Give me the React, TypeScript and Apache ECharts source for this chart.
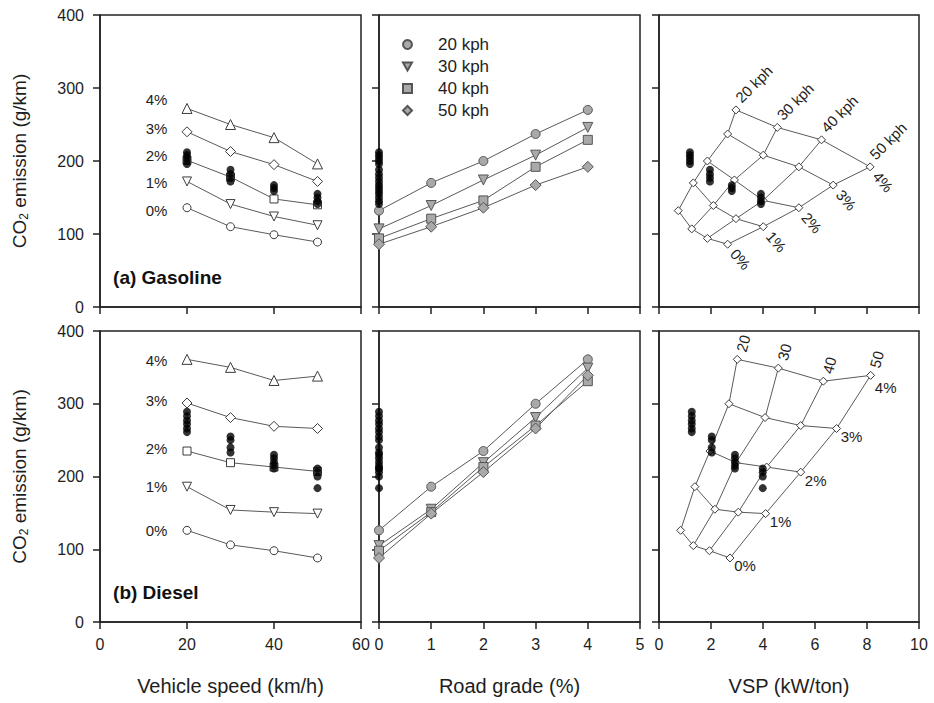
import React, { useEffect, useRef } from 'react';
import * as echarts from 'echarts';

const FONT = '"Liberation Sans", Arial, Helvetica, sans-serif';
const INK = '#1e1e1e';
const LINE = '#5a5a5a';
const EDGE = '#3c3c3c';

const speeds = [20, 30, 40, 50];
const grades = [0, 1, 2, 3, 4];
const gradeNames = ['0%', '1%', '2%', '3%', '4%'];
const speedNames = ['20 kph', '30 kph', '40 kph', '50 kph'];
const speedShort = ['20', '30', '40', '50'];

// ---- Gasoline ----
// left panel: CO2 vs speed, one row per grade (0..4 %)
const gasSpeedCo2 = [
  [136, 110, 99, 89],
  [172, 141, 124, 112],
  [201, 178, 148, 140],
  [240, 213, 195, 172],
  [272, 250, 232, 196],
];
// middle / right panels: CO2 by grade (rows) and speed (cols)
const gasGradeCo2 = [
  [132, 107, 94, 86],
  [170, 139, 121, 110],
  [200, 174, 146, 136],
  [237, 208, 192, 167],
  [270, 246, 229, 192],
];
const gasVsp = [
  [0.74, 1.26, 1.86, 2.64],
  [1.32, 2.09, 2.96, 4.01],
  [1.86, 2.9, 4.0, 5.38],
  [2.64, 4.01, 5.38, 6.7],
  [2.96, 4.55, 6.25, 8.12],
];
const gasMeas20 = [212, 208, 204, 200, 196];
const gasMeas30 = [188, 182, 177, 172];
const gasMeas40 = [167, 163, 159];
const gasMeas50 = [155, 150, 145, 141];
const gasMeasVsp = [1.19, 1.96, 2.8, 3.92];
const gasPctLabelY = [132, 170, 208, 245, 284];

// ---- Diesel ----
const dieselSpeedCo2 = [
  [126, 106, 98, 88],
  [186, 154, 151, 149],
  [235, 219, 213, 207],
  [301, 281, 269, 266],
  [361, 350, 332, 338],
];
const dieselGradeCo2 = [
  [126, 105, 98, 88],
  [186, 155, 151, 149],
  [235, 219, 213, 206],
  [300, 281, 270, 266],
  [361, 349, 331, 339],
];
const dieselVsp = [
  [0.83, 1.32, 1.94, 2.73],
  [1.38, 2.15, 3.05, 4.1],
  [1.96, 2.96, 4.14, 5.45],
  [2.69, 4.08, 5.45, 6.83],
  [3.01, 4.59, 6.32, 8.14],
];
const dieselMeas20 = [289, 283, 277, 272, 266, 261];
const dieselMeas30 = [255, 250, 240, 233];
const dieselMeas40 = [230, 225, 220, 215, 211];
const dieselMeas50 = [211, 206, 200, 184];
const dieselMeasVsp = [1.26, 2.03, 2.92, 3.99];
const dieselPctLabelY = [126, 186, 238, 305, 359];

const xMax = [60, 5, 10];
const xInterval = [20, 1, 2];
const xTitles = ['Vehicle speed (km/h)', 'Road grade (%)', 'VSP (kW/ton)'];

const gradeSymbols = ['circle', 'triangle', 'rect', 'diamond', 'triangle'];
const gradeRot = [0, 180, 0, 0, 0];
const gradeSize = [8, 9, 8, 10, 10];
const speedSymbols = ['circle', 'triangle', 'rect', 'diamond'];
const speedRot = [0, 180, 0, 0];
const speedSize = [9, 10, 9, 11];

const fuels = [
  {
    speedCo2: gasSpeedCo2,
    gradeCo2: gasGradeCo2,
    vsp: gasVsp,
    meas: [gasMeas20, gasMeas30, gasMeas40, gasMeas50],
    measVsp: gasMeasVsp,
    title: '(a) Gasoline',
    pctY: gasPctLabelY,
    prefix: '',
  },
  {
    speedCo2: dieselSpeedCo2,
    gradeCo2: dieselGradeCo2,
    vsp: dieselVsp,
    meas: [dieselMeas20, dieselMeas30, dieselMeas40, dieselMeas50],
    measVsp: dieselMeasVsp,
    title: '(b) Diesel',
    pctY: dieselPctLabelY,
    prefix: 'd ',
  },
];

const gridRects = [
  { left: 100, top: 15, width: 261, height: 292 },
  { left: 379, top: 15, width: 261, height: 292 },
  { left: 659, top: 15, width: 260, height: 292 },
  { left: 100, top: 331, width: 261, height: 291 },
  { left: 379, top: 331, width: 261, height: 291 },
  { left: 659, top: 331, width: 260, height: 291 },
];

function buildOption() {
  const grid = gridRects.map((r) => ({
    ...r,
    show: true,
    borderColor: '#222',
    borderWidth: 1.5,
    containLabel: false,
  }));
  const xAxis = gridRects.map((_, i) => {
    const c = i % 3;
    const bottom = i >= 3;
    return {
      type: 'value',
      gridIndex: i,
      min: 0,
      max: xMax[c],
      interval: xInterval[c],
      splitLine: { show: false },
      axisLine: { show: true, lineStyle: { color: '#222', width: 1.5 } },
      axisTick: { show: true, inside: false, length: 7, lineStyle: { color: '#222', width: 1.5 } },
      axisLabel: {
        show: bottom,
        margin: 14,
        fontFamily: FONT,
        fontSize: 16,
        color: INK,
      },
      name: bottom ? xTitles[c] : '',
      nameLocation: 'middle',
      nameGap: 54,
      nameTextStyle: { fontFamily: FONT, fontSize: 20, color: INK },
    };
  });
  const yAxis = gridRects.map((_, i) => {
    const first = i % 3 === 0;
    return {
      type: 'value',
      gridIndex: i,
      min: 0,
      max: 400,
      interval: 100,
      splitLine: { show: false },
      axisLine: { show: true, lineStyle: { color: '#222', width: 1.5 } },
      axisTick: { show: true, inside: false, length: 7, lineStyle: { color: '#222', width: 1.5 } },
      axisLabel: {
        show: first,
        margin: 16,
        fontFamily: FONT,
        fontSize: 16,
        color: INK,
      },
      name: first ? '{n|CO}{s|2}{n| emission (g/km)}' : '',
      nameLocation: 'middle',
      nameRotate: 90,
      nameGap: 70,
      nameTextStyle: {
        rich: {
          n: { fontFamily: FONT, fontSize: 19, color: INK, lineHeight: 22 },
          s: { fontFamily: FONT, fontSize: 12, color: INK, lineHeight: 12, verticalAlign: 'bottom' },
        },
      },
    };
  });

  const series: any[] = [];
  fuels.forEach((f, fi) => {
    const g0 = fi * 3;
    // Left: CO2 vs speed per grade
    grades.forEach((k) => {
      series.push({
        type: 'line',
        name: f.prefix + 'speed ' + gradeNames[k],
        xAxisIndex: g0,
        yAxisIndex: g0,
        data: speeds.map((s, j) => [s, f.speedCo2[k][j]]),
        symbol: gradeSymbols[k],
        symbolRotate: gradeRot[k],
        symbolSize: gradeSize[k],
        showAllSymbol: true,
        clip: false,
        lineStyle: { color: LINE, width: 1 },
        itemStyle: { color: '#fff', borderColor: EDGE, borderWidth: 1 },
        z: 3,
      });
    });
    // measured dots on left
    series.push({
      type: 'scatter',
      name: f.prefix + 'measured speed',
      xAxisIndex: g0,
      yAxisIndex: g0,
      data: f.meas.flatMap((arr, j) => arr.map((v) => [speeds[j], v])),
      symbol: 'circle',
      symbolSize: 8,
      clip: false,
      itemStyle: { color: '#000' },
      z: 5,
    });
    // Middle: CO2 vs grade per speed
    speeds.forEach((s, j) => {
      series.push({
        type: 'line',
        name: fi === 0 ? speedNames[j] : f.prefix + speedNames[j],
        xAxisIndex: g0 + 1,
        yAxisIndex: g0 + 1,
        data: grades.map((k) => [k, f.gradeCo2[k][j]]),
        symbol: speedSymbols[j],
        symbolRotate: speedRot[j],
        symbolSize: speedSize[j],
        showAllSymbol: true,
        clip: false,
        lineStyle: { color: LINE, width: 1 },
        itemStyle: { color: '#a9a9a9', borderColor: '#555', borderWidth: 1 },
        z: 3,
      });
    });
    series.push({
      type: 'scatter',
      name: f.prefix + 'measured grade',
      xAxisIndex: g0 + 1,
      yAxisIndex: g0 + 1,
      data: f.meas.flatMap((arr) => arr.map((v) => [0, v])),
      symbol: 'circle',
      symbolSize: 8,
      clip: false,
      itemStyle: { color: '#000' },
      z: 5,
    });
    // Right: VSP grid — rows (constant grade)
    grades.forEach((k) => {
      series.push({
        type: 'line',
        name: f.prefix + 'vsp row ' + gradeNames[k],
        xAxisIndex: g0 + 2,
        yAxisIndex: g0 + 2,
        data: speeds.map((s, j) => [f.vsp[k][j], f.gradeCo2[k][j]]),
        symbol: 'diamond',
        symbolSize: 8,
        showAllSymbol: true,
        clip: false,
        lineStyle: { color: LINE, width: 1 },
        itemStyle: { color: '#fff', borderColor: EDGE, borderWidth: 1 },
        z: 4,
      });
    });
    // columns (constant speed)
    speeds.forEach((s, j) => {
      series.push({
        type: 'line',
        name: f.prefix + 'vsp col ' + speedNames[j],
        xAxisIndex: g0 + 2,
        yAxisIndex: g0 + 2,
        data: grades.map((k) => [f.vsp[k][j], f.gradeCo2[k][j]]),
        symbol: 'none',
        clip: false,
        lineStyle: { color: LINE, width: 1 },
        z: 3,
      });
    });
    series.push({
      type: 'scatter',
      name: f.prefix + 'measured vsp',
      xAxisIndex: g0 + 2,
      yAxisIndex: g0 + 2,
      data: f.meas.flatMap((arr, j) => arr.map((v) => [f.measVsp[j], v])),
      symbol: 'circle',
      symbolSize: 8,
      clip: false,
      itemStyle: { color: '#000' },
      z: 6,
    });
  });

  const downTri = 'path://M0,0L10,0L5,9Z';
  return {
    animation: false,
    backgroundColor: '#fff',
    textStyle: { fontFamily: FONT },
    grid,
    xAxis,
    yAxis,
    legend: {
      show: true,
      orient: 'vertical',
      left: 397,
      top: 31,
      itemWidth: 9,
      itemHeight: 9,
      itemGap: 5,
      selectedMode: false,
      textStyle: { fontFamily: FONT, fontSize: 17, color: INK, padding: [0, 0, 0, 21] },
      data: [
        { name: speedNames[0], icon: 'circle' },
        { name: speedNames[1], icon: downTri },
        { name: speedNames[2], icon: 'rect' },
        { name: speedNames[3], icon: 'diamond' },
      ],
    },
    series,
  };
}

function buildGraphics(chart: any) {
  const g: any[] = [];
  const px = (gi: number, x: number, y: number) => chart.convertToPixel({ gridIndex: gi }, [x, y]);
  fuels.forEach((f, fi) => {
    const g0 = fi * 3;
    // panel title
    const tp = px(g0, 3, 41);
    g.push({
      type: 'text',
      x: tp[0],
      y: tp[1],
      style: { text: f.title, font: `bold 19px ${FONT}`, fill: '#111', align: 'left', verticalAlign: 'middle' },
      z: 10,
    });
    // grade labels in left panel
    grades.forEach((k) => {
      const p = px(g0, 15.5, f.pctY[k]);
      g.push({
        type: 'text',
        x: p[0],
        y: p[1],
        style: { text: gradeNames[k], font: `15px ${FONT}`, fill: INK, align: 'right', verticalAlign: 'middle' },
        z: 10,
      });
    });
    // right panel labels
    speeds.forEach((s, j) => {
      const p = px(g0 + 2, f.vsp[4][j], f.gradeCo2[4][j]);
      if (fi === 0) {
        g.push({
          type: 'text',
          x: p[0] + 2,
          y: p[1] - 10,
          rotation: Math.PI / 4,
          style: { text: speedNames[j], font: `15px ${FONT}`, fill: INK, align: 'left', verticalAlign: 'middle' },
          z: 10,
        });
      } else {
        g.push({
          type: 'text',
          x: p[0] + 6,
          y: p[1] - 16,
          rotation: 1.3,
          style: { text: speedShort[j], font: `15px ${FONT}`, fill: INK, align: 'center', verticalAlign: 'middle' },
          z: 10,
        });
      }
    });
    grades.forEach((k) => {
      const p = px(g0 + 2, f.vsp[k][3], f.gradeCo2[k][3]);
      if (fi === 0) {
        g.push({
          type: 'text',
          x: p[0] + 13,
          y: p[1] + 15,
          rotation: -0.85,
          style: { text: gradeNames[k], font: `15px ${FONT}`, fill: INK, align: 'center', verticalAlign: 'middle' },
          z: 10,
        });
      } else {
        g.push({
          type: 'text',
          x: p[0] + 15,
          y: p[1] + (k === 4 ? 12 : 8),
          style: { text: gradeNames[k], font: `15px ${FONT}`, fill: INK, align: 'center', verticalAlign: 'middle' },
          z: 10,
        });
      }
    });
  });
  return g;
}

export default function App() {
  const ref = useRef<HTMLDivElement>(null);
  useEffect(() => {
    const el = ref.current;
    if (!el) return;
    const chart = echarts.init(el, undefined, { renderer: 'svg', width: 934, height: 703 });
    chart.setOption(buildOption() as any);
    chart.setOption({ graphic: buildGraphics(chart) } as any);
    return () => chart.dispose();
  }, []);
  return (
    <div
      ref={ref}
      style={{ position: 'fixed', left: 0, top: 0, width: 934, height: 703, background: '#fff' }}
    />
  );
}
